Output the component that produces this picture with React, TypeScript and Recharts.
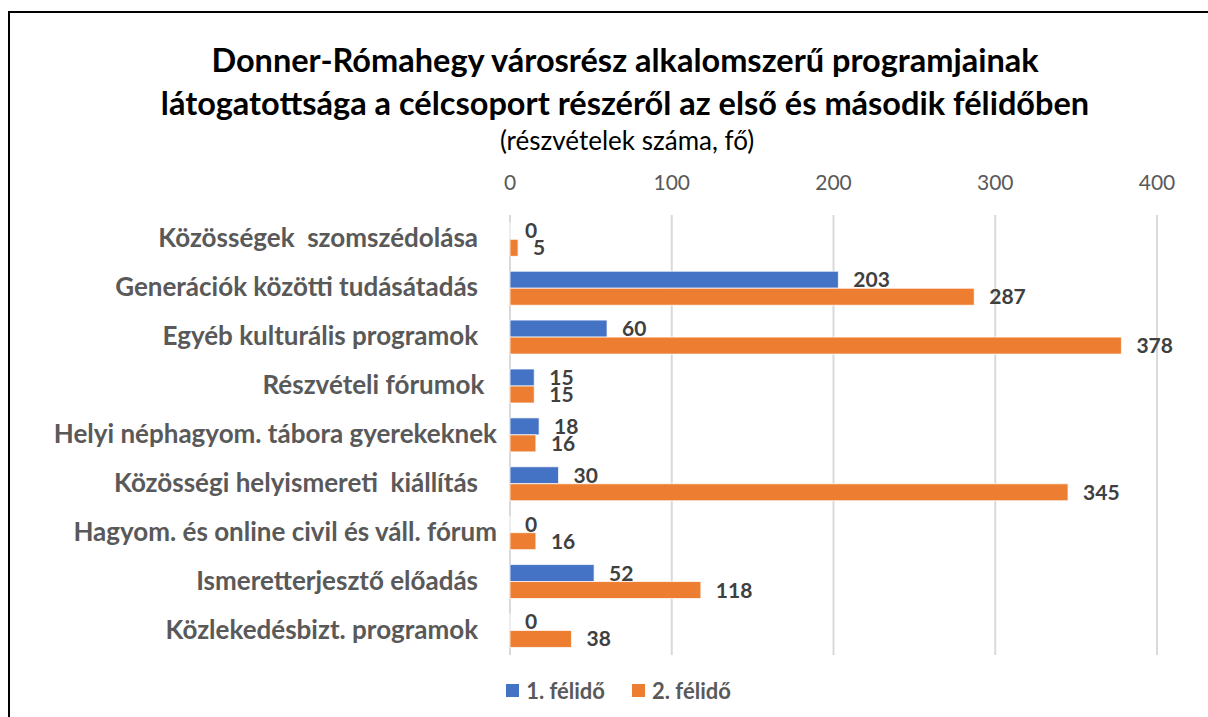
import { BarChart, Bar, XAxis, YAxis, CartesianGrid, LabelList, Legend } from 'recharts'

const categories = [
  'Közösségek  szomszédolása   ',
  'Generációk közötti tudásátadás   ',
  'Egyéb kulturális programok   ',
  'Részvételi fórumok  ',
  'Helyi néphagyom. tábora gyerekeknek',
  'Közösségi helyismereti  kiállítás   ',
  'Hagyom. és online civil és váll. fórum',
  'Ismeretterjesztő előadás   ',
  'Közlekedésbizt. programok   ',
]
const firstHalf = [0, 203, 60, 15, 18, 30, 0, 52, 0]
const secondHalf = [5, 287, 378, 15, 16, 345, 16, 118, 38]
const xTicks = [0, 100, 200, 300, 400]
const seriesNames = ['1. félidő', '2. félidő']

const BLUE = '#4472C4'
const ORANGE = '#ED7D31'
const FONT = 'Lato, "Open Sans", sans-serif'

const data = categories.map((name, i) => ({ name, a: firstHalf[i], b: secondHalf[i] }))

function CategoryTick({ x, y, payload }: any) {
  return (
    <text
      x={x}
      y={y - 2}
      textAnchor="end"
      dominantBaseline="central"
      xmlSpace="preserve"
      style={{ whiteSpace: 'pre' }}
      fill="#595959"
      fontSize={26}
      fontWeight={700}
      fontFamily={FONT}
    >
      {payload.value}
    </text>
  )
}

function LegendContent({ payload }: any) {
  return (
    <div style={{ display: 'flex', justifyContent: 'center', gap: 27, fontFamily: FONT }}>
      {(payload || []).map((p: any) => (
        <div key={p.value} style={{ display: 'flex', alignItems: 'center', gap: 7 }}>
          <span style={{ width: 13, height: 13, background: p.color, display: 'inline-block' }} />
          <span style={{ fontSize: 22, fontWeight: 700, color: '#595959' }}>{p.value}</span>
        </div>
      ))}
    </div>
  )
}

export default function App() {
  return (
    <div style={{ position: 'fixed', left: 0, top: 0, width: 1208, height: 717, overflow: 'hidden', background: '#fff' }}>
      <div
        style={{
          position: 'absolute',
          left: 8,
          top: 11,
          width: 1300,
          height: 1000,
          border: '2px solid #000',
          boxSizing: 'border-box',
        }}
      />
      <div
        style={{
          position: 'absolute',
          left: 0,
          top: 38,
          width: 1250,
          textAlign: 'center',
          fontFamily: FONT,
          fontWeight: 700,
          fontSize: 32.5,
          lineHeight: '43px',
          color: '#000',
        }}
      >
        Donner-Rómahegy városrész alkalomszerű programjainak
        <br />
        látogatottsága a célcsoport részéről az első és második félidőben
      </div>
      <div
        style={{
          position: 'absolute',
          left: 0,
          top: 125,
          width: 1254,
          textAlign: 'center',
          fontFamily: FONT,
          fontSize: 26,
          lineHeight: '30px',
          color: '#000',
        }}
      >
        (részvételek száma, fő)
      </div>
      <div style={{ position: 'absolute', left: 0, top: 0 }}>
        <BarChart
          width={1208}
          height={717}
          data={data}
          layout="vertical"
          margin={{ top: 160, right: 51, bottom: 22, left: 0 }}
          barCategoryGap="15%"
          barGap={0}
        >
          <CartesianGrid horizontal={false} stroke="#d9d9d9" strokeWidth={2} />
          <XAxis
            type="number"
            orientation="top"
            domain={[0, 400]}
            ticks={xTicks}
            height={55}
            axisLine={false}
            tickLine={false}
            tickMargin={19}
            tick={{ fill: '#595959', fontSize: 21, fontFamily: FONT }}
          />
          <YAxis
            type="category"
            dataKey="name"
            width={510}
            axisLine={false}
            tickLine={false}
            tickSize={0}
            tickMargin={13}
            tick={<CategoryTick />}
            interval={0}
          />
          <Legend
            verticalAlign="bottom"
            height={40}
            wrapperStyle={{ bottom: 0, left: 80, width: 1077 }}
            content={<LegendContent />}
          />
          <Bar
            dataKey="a"
            name={seriesNames[0]}
            fill={BLUE}
            stroke="#fff"
            strokeWidth={0.75}
            minPointSize={0.1}
            isAnimationActive={false}
          >
            <LabelList
              dataKey="a"
              position="right"
              offset={15}
              fill="#404040"
              fontSize={21}
              fontWeight={700}
              fontFamily={FONT}
            />
          </Bar>
          <Bar
            dataKey="b"
            name={seriesNames[1]}
            fill={ORANGE}
            stroke="#fff"
            strokeWidth={0.75}
            isAnimationActive={false}
          >
            <LabelList
              dataKey="b"
              position="right"
              offset={15}
              fill="#404040"
              fontSize={21}
              fontWeight={700}
              fontFamily={FONT}
            />
          </Bar>
        </BarChart>
      </div>
    </div>
  )
}
